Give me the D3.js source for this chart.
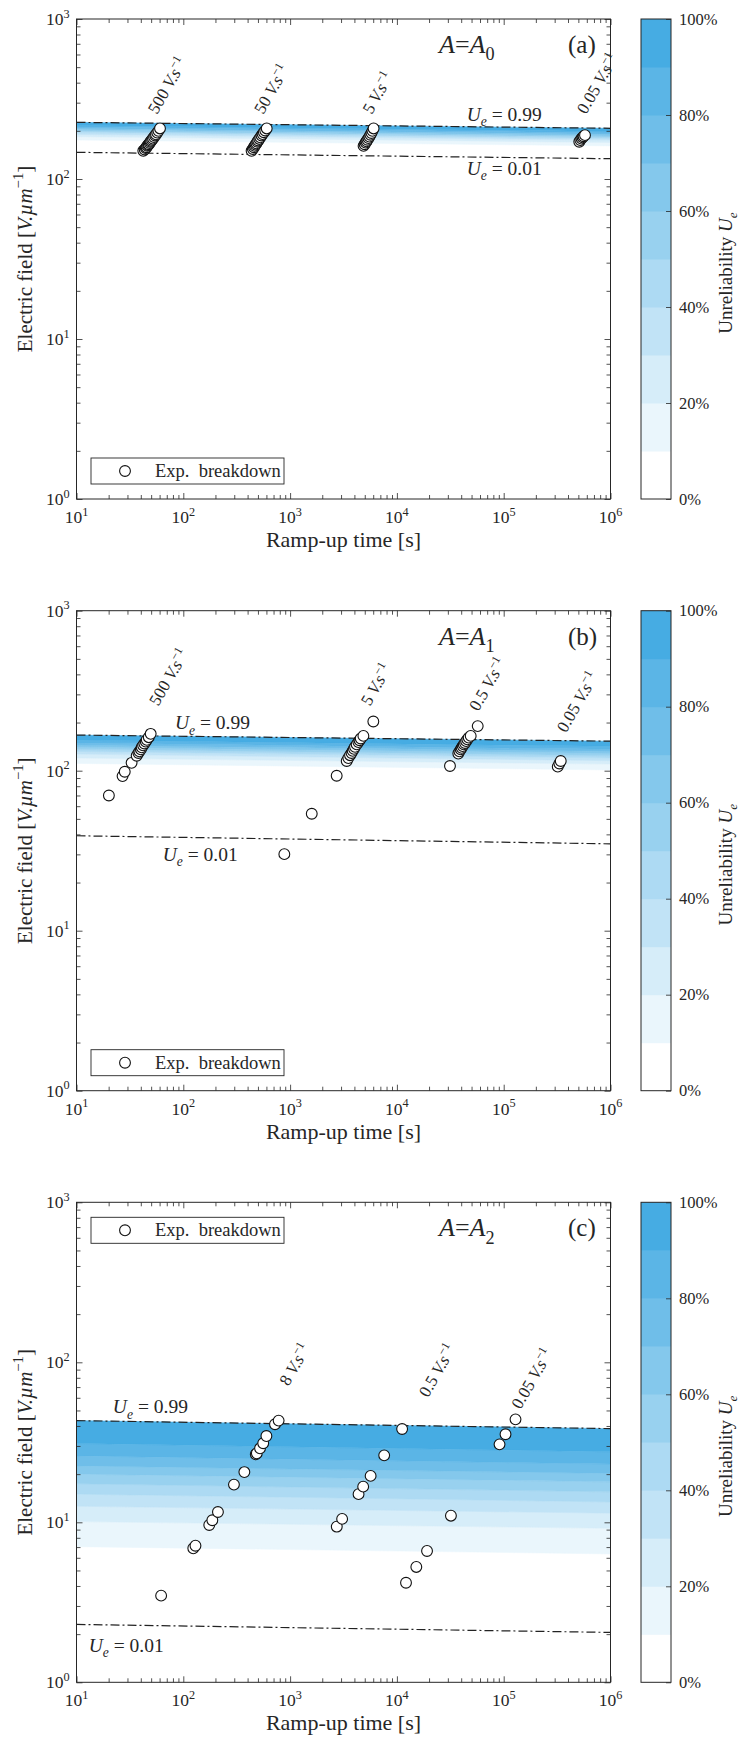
<!DOCTYPE html>
<html>
<head>
<meta charset="utf-8">
<script src="https://cdn.jsdelivr.net/npm/d3@7"></script>
<style>
body { margin: 0; background: #fff; }
svg text { font-family: "Liberation Serif", "DejaVu Serif", serif; fill: #262626; }
</style>
</head>
<body>
<svg id="chart" width="743" height="1740" font-family="Liberation Serif, DejaVu Serif, serif"></svg>
<script>
// ---- data: [ramp-up time (s), breakdown field (V/um)] ----
const pointsA = [
  [42.2,150],[43.5,153],[44.5,156],[45.3,158],[46,161],[46.8,163],[47.5,165],[48.5,168],[49.3,171],
  [50,173],[51,176],[52,179],[53.2,183],[54.5,187],[55.5,190],[57,195],[58.5,200],[60.5,207],
  [436,150],[448,154],[458,158],[466,161],[475,164],[484,167],[494,171],[503,174],[515,178],
  [526,182],[540,187],[553,191],[568,196],[585,201],[604,207],
  [4875,161],[4990,165],[5100,169],[5200,172],[5300,176],[5420,180],[5530,184],[5650,189],
  [5780,194],[5900,200],[6050,207],
  [510000,171],[522000,175],[535000,179],[548000,182],[560000,185],[577000,188]
];
const pointsB = [
  [20.1,70],[27,92.5],[28.3,98.5],[32.8,112],[36.6,124],[38,129],[38.8,132],[40,136],[40.8,140],
  [42,144],[43.2,148],[44.5,152],[45.5,156],[47.5,162],[49.5,170],
  [883,30.1],[1595,53.8],[2730,93],[3390,115],[3510,120],[3640,125],[3760,129],[3855,133],
  [3960,137],[4054,141],[4200,146],[4357,151],[4470,155],[4585,159],[4855,165],[6015,203],
  [31400,107],[37570,128],[38500,132],[39560,136],[40400,139],[41300,142.5],[42300,146],
  [43430,149],[44500,153],[45640,157],[47000,161],[49090,165],[57100,190],
  [320700,106],[332000,111],[342000,115]
];
const pointsC = [
  [62,3.48],[124,6.88],[130,7.14],[175,9.62],[187,10.3],[211,11.6],[298,17.2],[373,20.6],
  [477,26.6],[488,27.0],[523,29.0],[560,31.2],[600,34.6],[722,41.0],[781,43.2],
  [2735,9.39],[3070,10.5],[4375,15.0],[4833,16.7],[5675,19.5],[7603,26.2],[11190,38.3],
  [12170,4.19],[15200,5.26],[19150,6.62],[32050,11.0],
  [91400,30.7],[104000,35.5],[129000,44.0]
];

// unreliability contour levels (last one is the U_e = 0.99 line)
const levels = [0.1, 0.2, 0.3, 0.4, 0.5, 0.6, 0.7, 0.8, 0.9, 0.99];
// field at each level, at t = 1e1 (left) and t = 1e6 (right)
const levelsLeftA  = [175, 184, 190, 195, 199, 203, 207, 211, 216, 226];
const levelsRightA = [161, 169, 175, 179, 183, 186, 190, 194, 198, 207.5];
const levelsLeftB  = [111, 120, 127, 132, 136, 140, 144, 149, 155, 167];
const levelsRightB = [101, 110, 115.5, 120, 124, 128, 132, 136, 142, 153];
const levelsLeftC  = [7.04, 10.1, 12.6, 15.0, 17.4, 20.0, 22.5, 26.0, 31.1, 43.2];
const levelsRightC = [6.34, 9.17, 11.4, 13.4, 15.5, 17.9, 20.2, 23.1, 27.6, 38.5];
// U_e = 0.01 line at t = 1e1 and 1e6
const lowLineA = [146.8, 133.9];
const lowLineB = [39.2, 34.9];
const lowLineC = [2.30, 2.05];

// ramp-rate labels and where they sit (data coords)
const ratesA = ["500", "50", "5", "0.05"];
const rateAtA = [[56.7,251],[561,251],[5800,251],[590000,251]];
const ratesB = ["500", "5", "0.5", "0.05"];
const rateAtB = [[58.4,251],[5600,251],[57800,233],[383000,171]];
const ratesC = ["8", "0.5", "0.05"];
const rateAtC = [[968,70.4],[19500,59.6],[144000,50.3]];
// U_e = 0.99 / 0.01 label anchors
const ueAtA = [[45000,230.4],[45000,106]];
const ueAtB = [[83.5,181],[64.1,27.3]];
const ueAtC = [[21.9,48.0],[13.0,1.55]];

const areaNames = ["0", "1", "2"];
const panelTags = ["(a)", "(b)", "(c)"];
const xMajor = [1e1, 1e2, 1e3, 1e4, 1e5, 1e6];
const yMajor = [1, 10, 100, 1000];
const cbTicks = [0, 0.2, 0.4, 0.6, 0.8, 1];

// ---- layout ----
const margin = { left: 76.5 };
const width = 534, height = 480;
const panelTops = [19, 610.7, 1202.3];
const cbX = 641, cbW = 30;
const legendTop = [height - 41, height - 41, 15];
const FONT = '"Liberation Serif", "DejaVu Serif", serif';

const panels = [
  { pts: pointsA, L: levelsLeftA, R: levelsRightA, low: lowLineA, rates: ratesA, rateAt: rateAtA, ue: ueAtA },
  { pts: pointsB, L: levelsLeftB, R: levelsRightB, low: lowLineB, rates: ratesB, rateAt: rateAtB, ue: ueAtB },
  { pts: pointsC, L: levelsLeftC, R: levelsRightC, low: lowLineC, rates: ratesC, rateAt: rateAtC, ue: ueAtC },
];

const svg = d3.select("#chart");
const x = d3.scaleLog().domain([1e1, 1e6]).range([0, width]);
const y = d3.scaleLog().domain([1, 1e3]).range([height, 0]);
const color = d3.scaleLinear().domain([0, 9]).range(["#ffffff", "#46ace3"]).interpolate(d3.interpolateRgb);
const isPow10 = (v) => Math.abs(Math.log10(v) - Math.round(Math.log10(v))) < 1e-9;
const xMinor = x.ticks().filter((v) => !isPow10(v));
const yMinor = y.ticks().filter((v) => !isPow10(v));

// text with italic / sub / superscript pieces
const rich = (text, parts, base) => {
  text.style("font-family", FONT).style("font-size", base + "px");
  let shift = 0;
  parts.forEach((p) => {
    const s = p.sup ? -0.42 * base : p.sub ? 0.28 * base : 0;
    text.append("tspan").text(p.t)
      .attr("dy", s - shift)
      .style("font-style", p.i ? "italic" : null)
      .style("font-size", (p.sup || p.sub) ? (0.7 * base) + "px" : null);
    shift = s;
  });
};

const area = d3.area()
  .x((d) => x(d.t))
  .y0((d) => y(d.lo))
  .y1((d) => y(d.hi));
const line = d3.line()
  .x((d) => x(d.t))
  .y((d) => y(d.v));

panels.forEach((p, k) => {
  const top = panelTops[k];
  const g = svg.append("g").attr("transform", `translate(${margin.left}, ${top})`);

  // filled unreliability bands
  for (let i = 1; i < levels.length; i++) {
    const band = [
      { t: 1e1, lo: p.L[i - 1], hi: p.L[i] },
      { t: 1e6, lo: p.R[i - 1], hi: p.R[i] },
    ];
    g.append("path").datum(band)
      .attr("d", area)
      .attr("fill", color(i))
      .attr("stroke", color(i))
      .attr("stroke-width", 0.5);
  }

  // U_e = 0.99 and 0.01 lines
  const hi = [{ t: 1e1, v: p.L[levels.length - 1] }, { t: 1e6, v: p.R[levels.length - 1] }];
  const lo = [{ t: 1e1, v: p.low[0] }, { t: 1e6, v: p.low[1] }];
  [hi, lo].forEach((d) => {
    g.append("path").datum(d)
      .attr("d", line)
      .attr("fill", "none")
      .attr("stroke", "#222")
      .attr("stroke-width", 1.2)
      .attr("stroke-dasharray", "9,3,2,3");
  });

  // breakdown points
  g.append("g").selectAll("circle")
    .data(p.pts)
    .join("circle")
    .attr("cx", (d) => x(d[0]))
    .attr("cy", (d) => y(d[1]))
    .attr("r", 5.4)
    .attr("fill", "#fff")
    .attr("stroke", "#111")
    .attr("stroke-width", 1.1);

  // ramp-rate labels
  p.rates.forEach((r, i) => {
    const [t, v] = p.rateAt[i];
    const txt = g.append("text")
      .attr("transform", `translate(${x(t)}, ${y(v)}) rotate(-60)`);
    rich(txt, [{ t: r + " " }, { t: "V.s", i: true }, { t: "\u22121", sup: true }], 17);
  });

  // U_e labels
  ["0.99", "0.01"].forEach((u, i) => {
    const [t, v] = p.ue[i];
    const txt = g.append("text").attr("x", x(t)).attr("y", y(v));
    rich(txt, [{ t: "U", i: true }, { t: "e", i: true, sub: true }, { t: " = " + u }], 19.5);
  });

  // axes: inward ticks on all four sides
  const tickG = g.append("g").style("color", "#262626");
  const mk = (axis, tr) => tickG.append("g").attr("transform", tr).call(axis).call((s) => s.select(".domain").remove());
  mk(d3.axisBottom(x).tickValues(xMajor).tickSize(-6).tickFormat(""), `translate(0, ${height})`);
  mk(d3.axisBottom(x).tickValues(xMinor).tickSize(-4).tickFormat(""), `translate(0, ${height})`);
  mk(d3.axisTop(x).tickValues(xMajor).tickSize(-6).tickFormat(""), "translate(0, 0)");
  mk(d3.axisTop(x).tickValues(xMinor).tickSize(-4).tickFormat(""), "translate(0, 0)");
  mk(d3.axisLeft(y).tickValues(yMajor).tickSize(-6).tickFormat(""), "translate(0, 0)");
  mk(d3.axisLeft(y).tickValues(yMinor).tickSize(-4).tickFormat(""), "translate(0, 0)");
  mk(d3.axisRight(y).tickValues(yMajor).tickSize(-6).tickFormat(""), `translate(${width}, 0)`);
  mk(d3.axisRight(y).tickValues(yMinor).tickSize(-4).tickFormat(""), `translate(${width}, 0)`);
  tickG.selectAll("line").attr("stroke-width", 0.8);

  g.append("rect")
    .attr("width", width).attr("height", height)
    .attr("fill", "none").attr("stroke", "#262626").attr("stroke-width", 1);

  // tick labels 10^k
  xMajor.forEach((v) => {
    const txt = g.append("text")
      .attr("x", x(v)).attr("y", height + 24)
      .attr("text-anchor", "middle");
    rich(txt, [{ t: "10" }, { t: String(Math.round(Math.log10(v))), sup: true }], 17.5);
  });
  yMajor.forEach((v) => {
    const txt = g.append("text")
      .attr("x", -7).attr("y", y(v) + 6)
      .attr("text-anchor", "end");
    rich(txt, [{ t: "10" }, { t: String(Math.round(Math.log10(v))), sup: true }], 17.5);
  });

  // axis titles
  const xt = g.append("text")
    .attr("x", width / 2).attr("y", height + 48)
    .attr("text-anchor", "middle");
  rich(xt, [{ t: "Ramp-up time [s]" }], 22);
  const yt = g.append("text")
    .attr("transform", `translate(${32 - margin.left}, ${height / 2}) rotate(-90)`)
    .attr("text-anchor", "middle");
  rich(yt, [{ t: "Electric field [" }, { t: "V.\u00b5m", i: true }, { t: "\u22121", sup: true }, { t: "]" }], 21);

  // area + panel tag
  const at = g.append("text")
    .attr("x", 439 - margin.left).attr("y", 34);
  rich(at, [{ t: "A", i: true }, { t: "=" }, { t: "A", i: true }, { t: areaNames[k], sub: true }], 26);
  const tg = g.append("text")
    .attr("x", 568 - margin.left).attr("y", 34);
  rich(tg, [{ t: panelTags[k] }], 25);

  // legend
  const lg = g.append("g").attr("transform", `translate(${91 - margin.left}, ${legendTop[k]})`);
  lg.append("rect")
    .attr("width", 193).attr("height", 26)
    .attr("fill", "#fff").attr("stroke", "#262626").attr("stroke-width", 0.9);
  lg.append("circle")
    .attr("cx", 34).attr("cy", 13).attr("r", 5.4)
    .attr("fill", "#fff").attr("stroke", "#111").attr("stroke-width", 1.1);
  const lt = lg.append("text").attr("x", 64).attr("y", 19);
  rich(lt, [{ t: "Exp.\u2002breakdown" }], 18.5);

  // colorbar
  const cb = svg.append("g").attr("transform", `translate(${cbX}, ${top})`);
  const cy = d3.scaleLinear().domain([0, 1]).range([height, 0]);
  cb.selectAll("rect.band")
    .data(d3.range(10))
    .join("rect")
    .attr("class", "band")
    .attr("x", 0).attr("width", cbW)
    .attr("y", (i) => cy((i + 1) / 10))
    .attr("height", (i) => cy(i / 10) - cy((i + 1) / 10) + 0.5)
    .attr("fill", (i) => color(i));
  cb.append("g")
    .attr("transform", `translate(${cbW}, 0)`)
    .style("color", "#262626")
    .call(d3.axisRight(cy).tickValues(cbTicks).tickSize(-5).tickPadding(8).tickFormat((d) => Math.round(d * 100) + "%"))
    .call((s) => s.select(".domain").remove())
    .call((s) => s.selectAll("text").style("font-size", "16.5px").style("font-family", FONT))
    .call((s) => s.selectAll("line").attr("stroke-width", 0.8));
  cb.append("rect")
    .attr("width", cbW).attr("height", height)
    .attr("fill", "none").attr("stroke", "#262626").attr("stroke-width", 1);
  const ct = cb.append("text")
    .attr("transform", `translate(${732 - cbX}, ${height / 2 + 14}) rotate(-90)`)
    .attr("text-anchor", "middle");
  rich(ct, [{ t: "Unreliability " }, { t: "U", i: true }, { t: "e", i: true, sub: true }], 19);
});
</script>
</body>
</html>
